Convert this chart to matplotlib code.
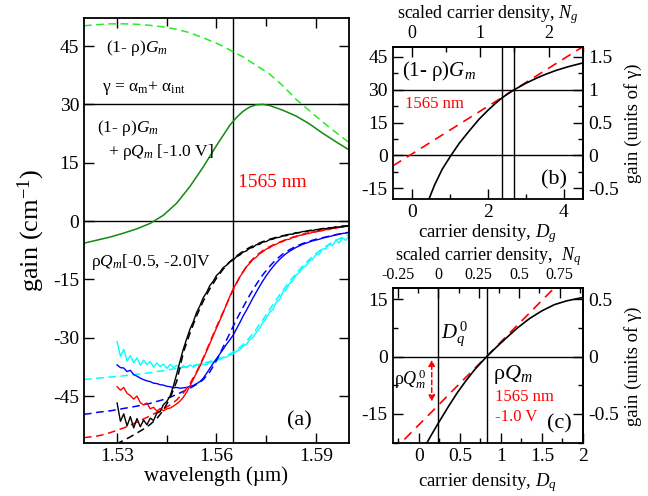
import numpy as np
import matplotlib
matplotlib.use('Agg')
import matplotlib.pyplot as plt
from matplotlib.ticker import MultipleLocator, FixedLocator, FuncFormatter

plt.rcParams['font.family'] = ['Liberation Serif', 'DejaVu Serif']
plt.rcParams['mathtext.fontset'] = 'custom'
plt.rcParams['mathtext.rm'] = 'Liberation Serif'
plt.rcParams['mathtext.it'] = 'Liberation Serif:italic'
plt.rcParams['mathtext.bf'] = 'Liberation Serif:bold'
plt.rcParams['axes.unicode_minus'] = False

# ---------------- data: panel (a) ----------------
wl_meas = np.linspace(1.530, 1.600, 71)
black_meas = [-46.8, -51.5, -49.6, -52.7, -50.3, -53.2, -50.8, -52.9, -51.2, -52.4,
              -50.7, -51.3, -49.4, -49.0, -47.2, -46.4, -45.0, -42.4, -39.3, -36.0,
              -32.9, -30.3, -27.8, -25.9, -23.5, -21.8, -19.7, -18.4, -16.6, -15.5,
              -14.0, -13.2, -12.0, -11.4, -10.5, -10.1, -9.2, -8.8, -8.0, -7.7,
              -7.0, -6.8, -6.1, -6.0, -5.4, -5.3, -4.8, -4.7, -4.3, -4.2,
              -3.8, -3.8, -3.4, -3.4, -3.0, -3.0, -2.7, -2.7, -2.4, -2.5,
              -2.2, -2.2, -1.9, -2.0, -1.7, -1.8, -1.5, -1.6, -1.3, -1.4, -1.1]
red_meas = [-42.6, -43.5, -42.8, -44.3, -44.9, -45.8, -45.0, -46.7, -47.3, -46.8,
            -48.3, -47.9, -48.9, -48.2, -48.8, -48.3, -48.1, -47.6, -47.0, -46.3,
            -45.3, -44.0, -42.4, -40.7, -39.0, -37.3, -35.4, -33.5, -31.5, -29.5,
            -27.5, -25.6, -23.6, -21.5, -19.4, -17.5, -16.0, -14.4, -13.2, -11.8,
            -10.9, -9.9, -9.3, -8.4, -7.9, -7.2, -6.9, -6.3, -6.0, -5.5,
            -5.3, -4.8, -4.7, -4.2, -4.1, -3.7, -3.6, -3.3, -3.2, -2.9,
            -2.8, -2.6, -2.5, -2.2, -2.2, -1.9, -1.9, -1.6, -1.6, -1.3, -1.3]
blue_meas = [-37.0, -37.7, -37.8, -38.7, -38.4, -39.5, -39.9, -40.4, -40.8, -41.1,
             -41.3, -41.7, -41.8, -42.1, -42.2, -42.5, -42.6, -42.9, -42.8, -43.0,
             -42.9, -42.8, -42.5, -42.3, -41.8, -41.3, -40.4, -39.2, -37.9, -36.6,
             -35.4, -34.2, -33.0, -31.7, -30.6, -29.4, -27.8, -26.2, -24.5, -23.0,
             -21.4, -19.8, -18.3, -16.8, -15.4, -14.1, -12.9, -11.8, -10.8, -9.9,
             -9.1, -8.4, -7.8, -7.3, -6.8, -6.4, -6.0, -5.7, -5.4, -5.1,
             -4.9, -4.7, -4.4, -4.2, -4.0, -3.8, -3.6, -3.4, -3.2, -3.1, -2.9]
cyan_meas = [-31.0, -34.8, -33.0, -36.0, -34.6, -36.5, -35.2, -37.1, -35.8, -36.9,
             -36.1, -37.6, -36.5, -37.4, -36.8, -37.9, -36.9, -37.7, -37.1, -38.0,
             -37.2, -37.7, -37.0, -37.6, -36.9, -37.3, -36.7, -37.0, -36.3, -36.3,
             -35.7, -35.7, -35.1, -35.0, -34.4, -34.2, -33.5, -33.1, -32.2, -31.7,
             -30.6, -29.9, -28.6, -27.6, -26.1, -25.0, -23.5, -22.8, -20.9, -20.2,
             -18.4, -17.7, -16.1, -15.4, -13.9, -13.3, -12.0, -11.6, -10.2, -9.9,
             -8.7, -8.5, -7.2, -7.1, -5.9, -6.4, -4.9, -5.7, -4.3, -5.0, -3.7]

wl_fit = np.linspace(1.520, 1.600, 41)
black_fit = [-62.0, -61.0, -60.2, -59.3, -58.3, -57.2, -56.4, -55.5, -54.5, -53.5,
             -52.3, -50.8, -48.6, -45.5, -41.2, -33.8, -28.8, -24.4, -20.6, -17.4,
             -14.7, -12.4, -10.5, -9.0, -7.8, -6.8, -6.0, -5.3, -4.7, -4.2,
             -3.8, -3.4, -3.1, -2.8, -2.5, -2.3, -2.0, -1.8, -1.6, -1.4, -1.2]
red_fit = [-55.7, -55.5, -55.3, -54.9, -54.4, -53.8, -53.2, -52.5, -51.7, -50.9,
           -50.1, -49.2, -48.3, -47.3, -46.0, -44.2, -41.8, -38.8, -35.2, -31.2,
           -27.2, -23.4, -19.6, -16.0, -13.0, -10.6, -8.9, -7.6, -6.6, -5.8,
           -5.1, -4.5, -3.9, -3.4, -3.0, -2.7, -2.3, -2.0, -1.7, -1.5, -1.2]
blue_fit = [-49.7, -49.5, -49.2, -49.0, -48.8, -48.5, -48.2, -47.9, -47.6, -47.2,
            -46.9, -46.4, -45.9, -45.3, -44.6, -43.8, -43.0, -42.0, -40.8, -38.8,
            -35.9, -32.4, -28.9, -25.4, -22.2, -19.1, -16.3, -13.8, -11.7, -9.9,
            -8.5, -7.4, -6.5, -5.8, -5.2, -4.7, -4.3, -3.9, -3.5, -3.2, -2.9]
cyan_fit = [-40.7, -40.6, -40.4, -40.3, -40.1, -40.0, -39.8, -39.6, -39.4, -39.2,
            -39.0, -38.7, -38.5, -38.2, -37.9, -37.6, -37.3, -37.0, -36.6, -36.1,
            -35.6, -35.0, -34.2, -33.2, -31.8, -30.0, -27.8, -25.4, -22.8, -20.3,
            -17.9, -15.6, -13.5, -11.6, -9.9, -8.4, -7.1, -6.0, -5.0, -4.2, -3.5]

wl_green = [1.520, 1.524, 1.528, 1.532, 1.536, 1.540, 1.544, 1.548, 1.552, 1.556,
            1.560, 1.562, 1.564, 1.566, 1.568, 1.570, 1.572, 1.574, 1.576, 1.580,
            1.584, 1.588, 1.592, 1.596, 1.600]
gm_dashed = [50.2, 50.5, 50.7, 50.7, 50.6, 50.3, 49.9, 49.3, 48.4, 47.1,
             45.7, 44.9, 44.0, 43.1, 42.2, 41.1, 40.0, 38.9, 37.8, 34.8,
             31.3, 28.4, 25.5, 22.8, 20.2]
gm_total = [-5.7, -4.9, -4.1, -3.1, -2.0, -0.6, 1.5, 4.6, 8.9, 13.9,
            19.4, 22.0, 24.6, 26.6, 28.2, 29.3, 29.9, 30.0, 29.7, 28.5,
            27.0, 25.0, 22.6, 20.4, 18.3]

# ---------------- data: panel (b) ----------------
Dg = [0.46, 0.6, 0.8, 1.03, 1.25, 1.5, 1.77, 2.0, 2.2, 2.38, 2.55, 2.69,
      3.0, 3.3, 3.52, 3.8, 4.1, 4.48]
Gg = [-19.6, -13.5, -6.3, 0.0, 5.6, 11.0, 16.6, 20.6, 23.8, 26.4, 28.5, 30.0,
      33.0, 35.5, 37.1, 38.9, 40.5, 42.2]
Dg_tan = [-0.5, 4.5]
Gg_tan = [-4.8, 49.7]
Dg_lines = [2.38, 2.69]

# ---------------- data: panel (c) ----------------
Dq = [0.06, 0.094, 0.16, 0.237, 0.35, 0.46, 0.57, 0.68, 0.826, 0.95, 1.076,
      1.2, 1.35, 1.5, 1.65, 1.8, 2.0]
Gq = [-24.0, -22.7, -20.2, -17.4, -13.4, -9.7, -6.4, -3.4, 0.0, 2.6, 5.1,
      7.5, 10.0, 12.0, 13.6, 14.6, 15.5]
Dq_tan = [-0.32, 2.0]
Gq_tan = [-24.8, 25.6]
Dq_lines = [0.237, 0.826]
gamma = 30.0

TICK = 14
fig = plt.figure(figsize=(6.48, 4.96), dpi=100)

def style(ax, major=7, minor=3.5, size=TICK):
    ax.tick_params(which='both', direction='in', labelsize=size, width=1.0)
    ax.tick_params(which='major', length=major)
    ax.tick_params(which='minor', length=minor)
    for s in ax.spines.values():
        s.set_linewidth(1.3)

fmt = FuncFormatter(lambda v, p: '%g' % round(v, 4))

# ---------------- panel (a) ----------------
axa = fig.add_axes([0.1296, 0.1075, 0.409, 0.8562])
axa.set_xlim(1.52, 1.60)
axa.set_ylim(-57, 52.2)
axa.axhline(30, color='k', lw=1.0)
axa.axhline(0, color='k', lw=1.0)
axa.axvline(1.565, color='k', lw=1.0)
dash = (0, (5, 3))
axa.plot(wl_green, gm_dashed, color='#22ee22', lw=1.1, ls=dash)
axa.plot(wl_green, gm_total, color='#108a10', lw=1.1)
for meas, fit, c in [(cyan_meas, cyan_fit, '#00ffff'), (blue_meas, blue_fit, '#0000ff'),
                     (red_meas, red_fit, '#ff0000'), (black_meas, black_fit, '#000000')]:
    axa.plot(wl_fit, fit, color=c, lw=1.1, ls=dash)
    axa.plot(wl_meas, meas, color=c, lw=1.0)
axa.xaxis.set_major_locator(FixedLocator([1.53, 1.56, 1.59]))
axa.xaxis.set_minor_locator(FixedLocator([1.545, 1.575]))
axa.xaxis.set_major_formatter(fmt)
axa.yaxis.set_major_locator(MultipleLocator(15))
axa.tick_params(top=True, right=True, which='both')
style(axa, 7, 6)
axa.set_xlabel('wavelength (µm)', fontsize=15, labelpad=1)
axa.set_ylabel('gain (cm$^{-1}$)', fontsize=19)
axa.yaxis.set_label_coords(-0.14, 0.5)
ta = dict(fontsize=12.5, va='center', ha='left')
axa.text(1.5265, 44.6, '(1- ρ)$G_m$', **ta)
axa.text(1.5253, 34.2, 'γ = α$_\\mathrm{m}$+ α$_\\mathrm{int}$', **ta)
axa.text(1.5239, 24.0, '(1- ρ)$G_m$', **ta)
axa.text(1.5272, 17.8, '+ ρ$Q_m$ [-1.0 V]', **ta)
axa.text(1.5666, 10.0, '1565 nm', color='#ff0000', fontsize=14, va='center', ha='left')
axa.text(1.5222, -10.5, 'ρ$Q_m$[-0.5, -2.0]V', **ta)
axa.text(1.585, -51.5, '(a)', fontsize=16, va='center', ha='center')

# ---------------- panel (b) ----------------
axb = fig.add_axes([0.606, 0.5982, 0.2937, 0.3064])
axb.set_xlim(-0.5, 4.5)
axb.set_ylim(-20, 49.4)
axb.axhline(30, color='k', lw=1.0)
axb.axhline(0, color='k', lw=1.0)
for d in Dg_lines:
    axb.axvline(d, color='k', lw=1.0)
axb.plot(Dg_tan, Gg_tan, color='#ff0000', lw=1.2, ls=(0, (6, 4)))
axb.plot(Dg, Gg, color='k', lw=1.2)
axb.xaxis.set_major_locator(MultipleLocator(2))
axb.xaxis.set_minor_locator(MultipleLocator(1))
axb.yaxis.set_major_locator(MultipleLocator(15))
axb.yaxis.set_minor_locator(MultipleLocator(7.5))
axb.tick_params(top=False, right=False, which='both')
style(axb)
sbx = axb.secondary_xaxis('top', functions=(lambda d: d / 1.8, lambda n: n * 1.8))
sbx.xaxis.set_major_locator(MultipleLocator(1))
sbx.xaxis.set_minor_locator(MultipleLocator(0.5))
sbx.xaxis.set_major_formatter(fmt)
style(sbx, size=13)
sby = axb.secondary_yaxis('right', functions=(lambda g: g / gamma, lambda r: r * gamma))
sby.yaxis.set_major_locator(MultipleLocator(0.5))
sby.yaxis.set_minor_locator(MultipleLocator(0.25))
sby.yaxis.set_major_formatter(fmt)
style(sby)
axb.set_xlabel('carrier density, $D_g$', fontsize=13.5, labelpad=1)
sbx.set_xlabel('scaled carrier density, $N_g$', fontsize=13, labelpad=5)
sby.set_ylabel('gain (units of γ)', fontsize=13.5, labelpad=4)
axb.text(-0.25, 38.5, '(1- ρ)$G_m$', fontsize=15, va='center', ha='left')
axb.text(-0.17, 23.5, '1565 nm', color='#ff0000', fontsize=12, va='center', ha='left')
axb.text(3.75, -11, '(b)', fontsize=16, va='center', ha='center')

# ---------------- panel (c) ----------------
axc = fig.add_axes([0.606, 0.1063, 0.2937, 0.3125])
axc.set_xlim(-0.32, 2.0)
axc.set_ylim(-22.7, 17.9)
axc.axhline(0, color='k', lw=1.0)
for d in Dq_lines:
    axc.axvline(d, color='k', lw=1.0)
axc.plot(Dq_tan, Gq_tan, color='#ff0000', lw=1.2, ls=(0, (6, 4)))
axc.plot(Dq, Gq, color='k', lw=1.2)
axc.annotate('', xy=(0.156, -0.8), xytext=(0.156, -11.8),
             arrowprops=dict(arrowstyle='<|-|>', color='#ff0000', lw=1.1,
                             ls=(0, (3, 2)), mutation_scale=9, shrinkA=0, shrinkB=0))
axc.xaxis.set_major_locator(MultipleLocator(0.5))
axc.xaxis.set_minor_locator(MultipleLocator(0.25))
axc.xaxis.set_major_formatter(fmt)
axc.yaxis.set_major_locator(MultipleLocator(15))
axc.yaxis.set_minor_locator(MultipleLocator(7.5))
axc.tick_params(top=False, right=False, which='both')
style(axc)
scx = axc.secondary_xaxis('top', functions=(lambda d: (d - 0.237) / 1.97,
                                            lambda n: n * 1.97 + 0.237))
scx.xaxis.set_major_locator(MultipleLocator(0.25))
scx.xaxis.set_minor_locator(MultipleLocator(0.125))
scx.xaxis.set_major_formatter(fmt)
style(scx, size=11.5)
scy = axc.secondary_yaxis('right', functions=(lambda g: g / gamma, lambda r: r * gamma))
scy.yaxis.set_major_locator(MultipleLocator(0.5))
scy.yaxis.set_minor_locator(MultipleLocator(0.25))
scy.yaxis.set_major_formatter(fmt)
style(scy)
axc.set_xlabel('carrier density, $D_q$', fontsize=13.5, labelpad=4)
scx.set_xlabel('scaled carrier density,  $N_q$', fontsize=13, labelpad=5)
scy.set_ylabel('gain (units of γ)', fontsize=13.5, labelpad=4)
axc.text(0.27, 6.0, '$D_q^{\\,0}$', fontsize=15, va='center', ha='left')
axc.text(-0.30, -6.0, 'ρ$Q_m^{\\,0}$', fontsize=13, va='center', ha='left')
axc.text(0.9, -4.8, 'ρ$Q_m$', fontsize=16, va='center', ha='left')
axc.text(0.93, -10.5, '1565 nm', color='#ff0000', fontsize=12, va='center', ha='left')
axc.text(0.93, -15.7, '-1.0 V', color='#ff0000', fontsize=12, va='center', ha='left')
axc.text(1.71, -17.6, '(c)', fontsize=16, va='center', ha='center')

fig.savefig('out.png', dpi=100)
